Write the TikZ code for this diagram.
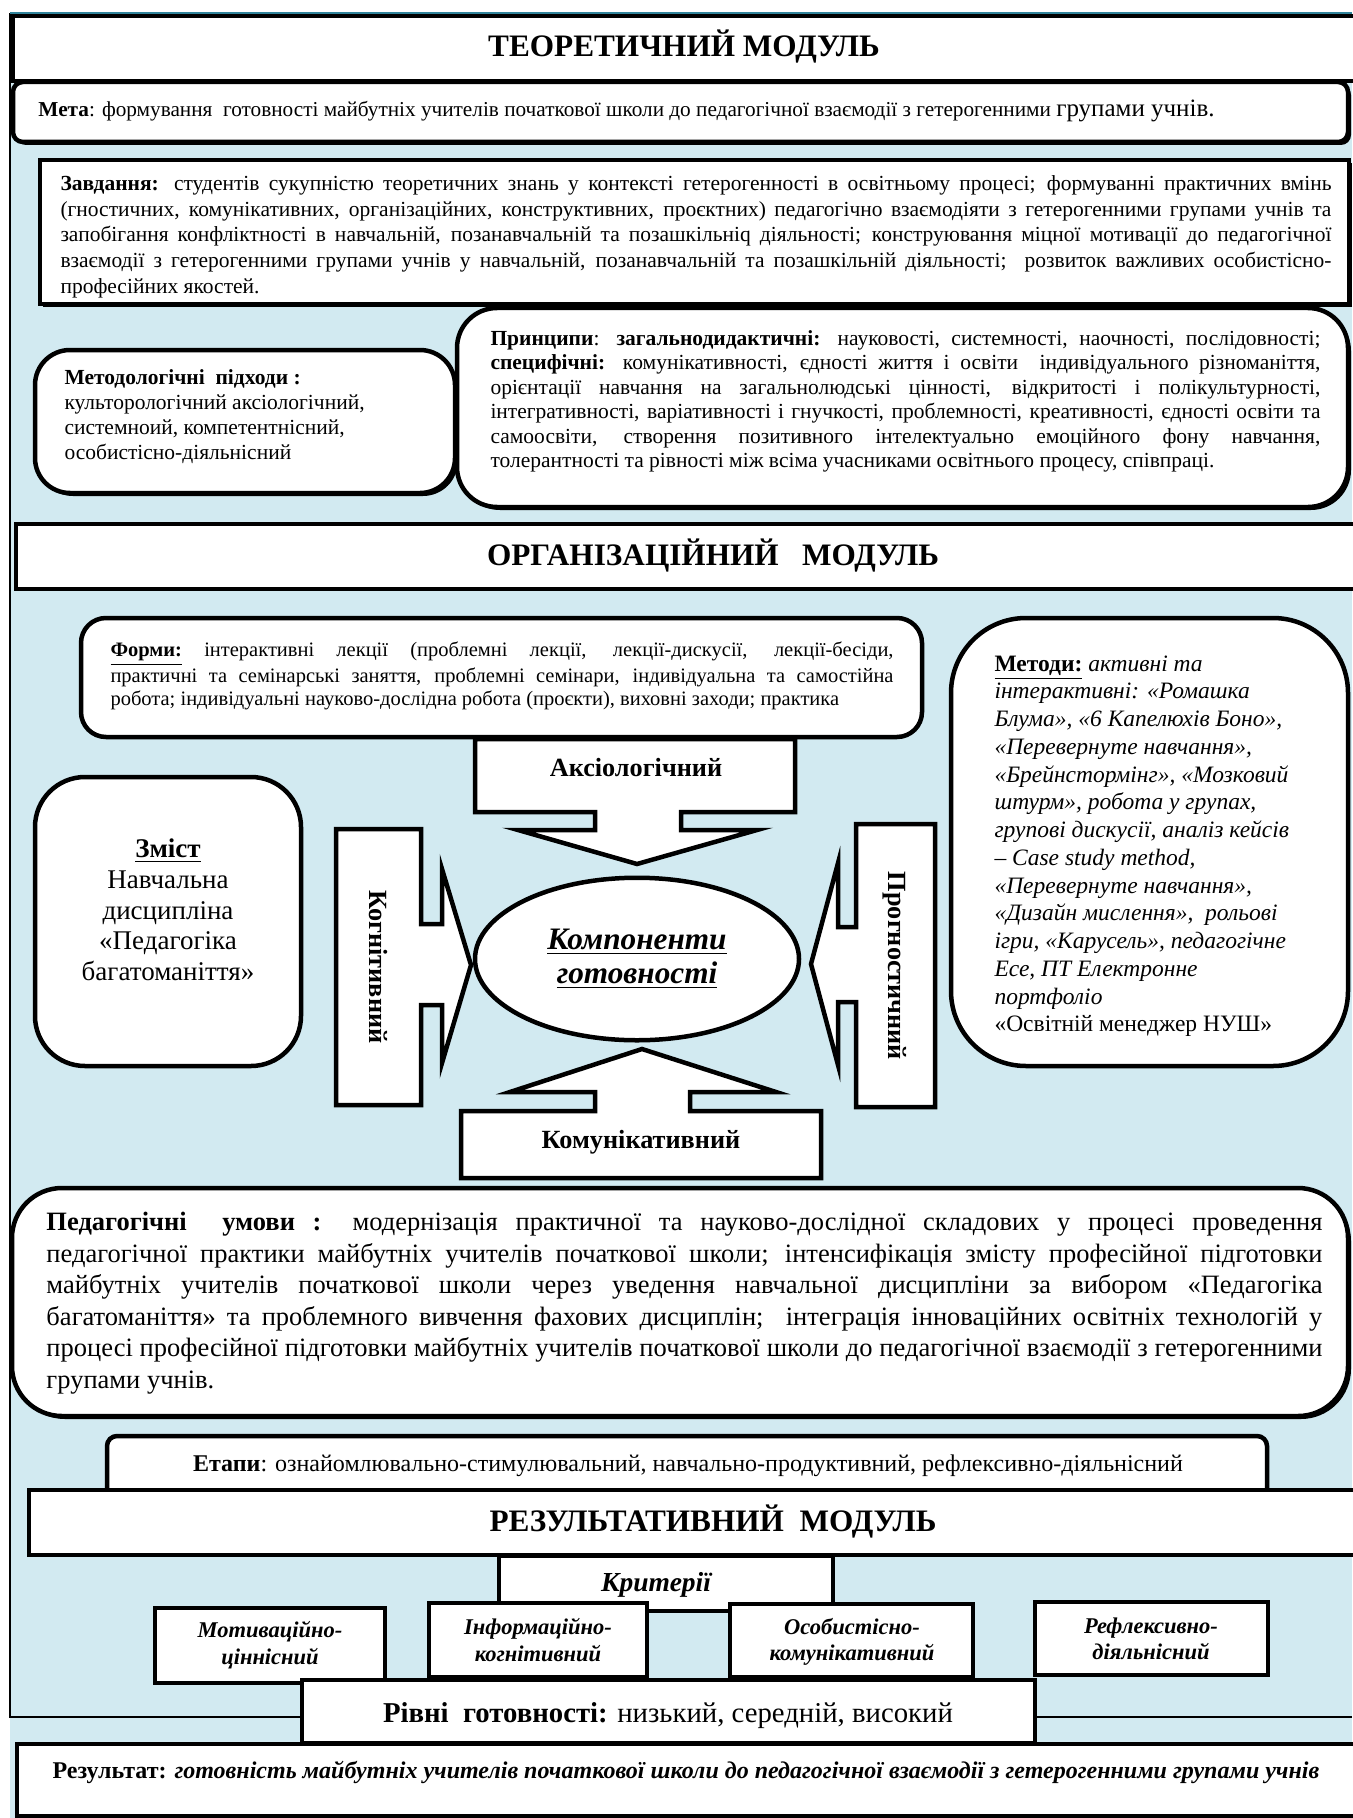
\documentclass[tikz,border=0pt]{standalone}
\usepackage{fontspec}
\setmainfont{Liberation Serif}
\usetikzlibrary{positioning, shapes.geometric, shadows}
\definecolor{bgblue}{RGB}{210,234,241}
\definecolor{frameteal}{RGB}{49,132,155}
\tikzset{
    panel/.style={draw=black, line width=1.8pt, fill=white, line join=miter},
    shade/.style={drop shadow={fill=black, opacity=1, shadow xshift=1.2pt, shadow yshift=-1.2pt}},
    modtitle/.style={inner sep=0pt, font=\fontsize{12.5}{15}\selectfont\bfseries},
    bodytext/.style 2 args={inner sep=0pt, align=justify, font=\fontsize{#1}{#2}\selectfont},
    arrowlabel/.style={inner sep=0pt, font=\fontsize{10.5}{12}\selectfont\bfseries},
    critlabel/.style={inner sep=0pt, align=center, font=\fontsize{9}{10.5}\selectfont\bfseries\itshape},
}

\begin{document}
\begin{tikzpicture}[x=0.4pt, y=-0.4pt]
\useasboundingbox (0,0) rectangle (1352,1818);
% background and frame
\fill[bgblue] (10,13) rectangle (1352,1818);
\draw[line width=0.6pt] (1352,1717) -- (10,1717) -- (10,13);
\draw[frameteal, line width=1pt] (10,13) -- (1352,13);

% theoretical module
\draw[panel] (13,16) rectangle (1362,81);
\node[modtitle] (teor) at (684,47) {ТЕОРЕТИЧНИЙ МОДУЛЬ};
\draw[panel, shade, rounded corners=4pt] (13,82) rectangle (1348,142);
\node[anchor=base west, inner sep=0pt, font=\fontsize{8.5}{10}\selectfont] (meta) at (38,117)
  {\textbf{Мета}: формування\ \ готовності майбутніх учителів початкової школи до педагогічної взаємодії з гетерогенними {\fontsize{10}{12}\selectfont групами учнів.}};

\draw[panel, shade] (40,160) rectangle (1349,304);
\node[bodytext={8.6}{10.3}, text width=508.4pt, anchor=north west] (zavd) at (60,175)
  {\textbf{Завдання:} студентів сукупністю теоретичних знань у контексті гетерогенності в освітньому процесі; формуванні практичних вмінь\linebreak
   (гностичних, комунікативних, організаційних, конструктивних, проєктних) педагогічно взаємодіяти з гетерогенними групами учнів та\linebreak
   запобігання конфліктності в навчальній, позанавчальній та позашкільніq діяльності; конструювання міцної мотивації до педагогічної\linebreak
   взаємодії з гетерогенними групами учнів у навчальній, позанавчальній та позашкільній діяльності;\ \ розвиток важливих особистісно-\linebreak
   професійних якостей.};

\draw[panel, shade, rounded corners=14pt] (35,350) rectangle (455,493);
\node[inner sep=0pt, align=left, anchor=north west, font=\fontsize{8.6}{10}\selectfont] (metod) at (64,369)
  {\textbf{Методологічні\ \ підходи :}\\культорологічний аксіологічний,\\системноий, компетентнісний,\\особистісно-діяльнісний};

\draw[panel, shade, rounded corners=16pt] (457,308) rectangle (1348,507);
\node[bodytext={8.6}{9.8}, text width=332pt, anchor=north west] (princ) at (490,330)
  {\textbf{Принципи}: \textbf{загальнодидактичні:} науковості, системності, наочності, послідовності;\linebreak
   \textbf{специфічні:} комунікативності, єдності життя і освіти\ \ індивідуального різноманіття,\linebreak
   орієнтації навчання на загальнолюдські цінності, відкритості і полікультурності,\linebreak
   інтегративності, варіативності і гнучкості, проблемності, креативності, єдності освіти та\linebreak
   самоосвіти, створення позитивного інтелектуально емоційного фону навчання,\linebreak
   толерантності та рівності між всіма учасниками освітнього процесу, співпраці.};

% organisational module
\draw[panel] (16,524) rectangle (1362,589);
\node[modtitle] (org) at (713,556) {ОРГАНІЗАЦІЙНИЙ\ \ \ МОДУЛЬ};

\draw[panel, rounded corners=10pt] (81,618) rectangle (922,737);
\node[bodytext={8.2}{9.2}, text width=313.2pt, anchor=north west] (forms) at (110,641)
  {\underline{\textbf{Форми:}} інтерактивні лекції (проблемні лекції, лекції-дискусії, лекції-бесіди,\linebreak
   практичні та семінарські заняття, проблемні семінари, індивідуальна та самостійна\linebreak
   робота; індивідуальні науково-дослідна робота (проєкти), виховні заходи; практика};

\draw[panel, rounded corners=30pt] (951,618) rectangle (1348,1066);
\node[inner sep=0pt, align=left, anchor=north west, font=\fontsize{9.4}{11.1}\selectfont] (methods) at (994,655)
  {\underline{\textbf{Методи:}} \textit{активні та}\\
   \textit{інтерактивні: «Ромашка}\\
   \textit{Блума», «6 Капелюхів Боно»,}\\
   \textit{«Перевернуте навчання»,}\\
   \textit{«Брейнстормінг», «Мозковий}\\
   \textit{штурм», робота у групах,}\\
   \textit{групові дискусії, аналіз кейсів}\\
   \textit{– Case study method,}\\
   \textit{«Перевернуте навчання»,}\\
   \textit{«Дизайн мислення»,\ \ рольові}\\
   \textit{ігри, «Карусель», педагогічне}\\
   \textit{Есе, ПТ Електронне}\\
   \textit{портфоліо}\\
   «Освітній менеджер НУШ»};

\draw[panel, rounded corners=20pt] (35,777) rectangle (301,1066);
\node[inner sep=0pt, align=center, font=\fontsize{10.8}{12.3}\selectfont] (zmist) at (168,910)
  {\underline{\textbf{Зміст}}\\Навчальна\\дисципліна\\«Педагогіка\\багатоманіття»};

% block arrows round the components
\draw[panel] (475,739) -- (795,739) -- (795,812) -- (681,812) -- (681,830) -- (757,830) -- (637,864)
  -- (518,830) -- (595,830) -- (595,812) -- (475,812) -- cycle;
\node[arrowlabel] (axio) at (636,768) {Аксіологічний};

\draw[panel] (336,829) -- (421,829) -- (421,924) -- (442,924) -- (442,869) -- (471,965) -- (442,1063)
  -- (442,1005) -- (421,1005) -- (421,1105) -- (336,1105) -- cycle;
\node[arrowlabel, rotate=-90] (kogn) at (378,967) {Когнітивний};

\draw[panel] (935,824) -- (856,824) -- (856,927) -- (838,927) -- (838,863) -- (811,964) -- (838,1065)
  -- (838,1002) -- (856,1002) -- (856,1107) -- (935,1107) -- cycle;
\node[arrowlabel, rotate=-90] (prog) at (895,966) {Прогностичний};

\draw[panel] (461,1178) -- (461,1111) -- (595,1111) -- (595,1092) -- (510,1092) -- (642,1049)
  -- (776,1092) -- (690,1092) -- (690,1111) -- (821,1111) -- (821,1178) -- cycle;
\node[arrowlabel] (komun) at (641,1142) {Комунікативний};

\node[ellipse, draw=black, line width=1.8pt, fill=white, minimum width=129.6pt, minimum height=65pt,
  inner sep=0pt, align=center, font=\fontsize{12.5}{13.4}\selectfont\bfseries\itshape] (comp) at (637,959)
  {\underline{Компоненти}\\\underline{готовності}};

\draw[panel, shade, rounded corners=20pt] (12,1188) rectangle (1348,1416);
\node[bodytext={10.6}{12.6}, text width=510.4pt, anchor=north west] (umovy) at (46,1212)
  {\textbf{Педагогічні\ \ умови :} модернізація практичної та науково-дослідної складових у процесі проведення\linebreak
   педагогічної практики майбутніх учителів початкової школи; інтенсифікація змісту професійної підготовки\linebreak
   майбутніх учителів початкової школи через уведення навчальної дисципліни за вибором «Педагогіка\linebreak
   багатоманіття» та проблемного вивчення фахових дисциплін;\ \ інтеграція інноваційних освітніх технологій у\linebreak
   процесі професійної підготовки майбутніх учителів початкової школи до педагогічної взаємодії з гетерогенними\linebreak
   групами учнів.};

% result module
\draw[panel, rounded corners=4pt] (107,1436) rectangle (1267,1500);
\node[inner sep=0pt, font=\fontsize{9.6}{11}\selectfont] (etapy) at (688,1466)
  {\textbf{Етапи}: ознайомлювально-стимулювальний, навчально-продуктивний, рефлексивно-діяльнісний};
\draw[panel] (29,1490) rectangle (1362,1555);
\node[modtitle] (rez) at (713,1522) {РЕЗУЛЬТАТИВНИЙ\ \ МОДУЛЬ};

\draw[panel] (499,1556) rectangle (833,1611);
\node[inner sep=0pt, font=\fontsize{11}{13}\selectfont\bfseries\itshape] (krit) at (656,1585) {Критерії};

\draw[panel] (155,1608) rectangle (385,1683);
\node[critlabel] (crit1) at (270,1645) {Мотиваційно-\\ціннісний};
\draw[panel] (429,1603) rectangle (647,1677);
\node[critlabel] (crit2) at (538,1640) {Інформаційно-\\когнітивний};
\draw[panel] (730,1604) rectangle (973,1677);
\node[critlabel] (crit3) at (852,1642) {Особистісно-\\комунікативний};
\draw[panel] (1035,1602) rectangle (1268,1675);
\node[critlabel] (crit4) at (1151,1639) {Рефлексивно-\\діяльнісний};

\draw[panel] (302,1680) rectangle (1035,1743);
\node[inner sep=0pt, font=\fontsize{11.5}{13}\selectfont] (rivni) at (668,1716)
  {\textbf{Рівні\ \ готовності:} низький, середній, високий};

\draw[panel] (17,1744) rectangle (1362,1816);
\node[anchor=base west, inner sep=0pt, font=\fontsize{9.6}{12}\selectfont\bfseries] (result) at (52,1778)
  {Результат: \textit{готовність майбутніх учителів початкової школи до педагогічної взаємодії з гетерогенними групами учнів}};
\end{tikzpicture}
\end{document}
